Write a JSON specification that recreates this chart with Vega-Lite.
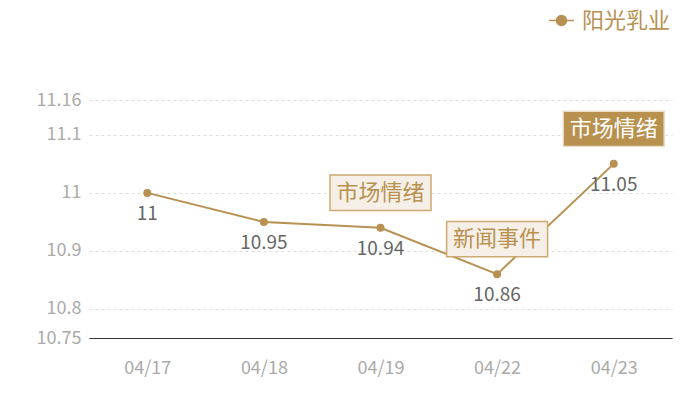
{
  "$schema": "https://vega.github.io/schema/vega-lite/v6.json",
  "description": "阳光乳业 daily price line with event annotations.",
  "width": 583,
  "height": 238,
  "autosize": "none",
  "padding": {"left": 89, "top": 100, "right": 28, "bottom": 62},
  "background": "#ffffff",
  "config": {
    "font": "Noto Sans CJK SC",
    "view": {"stroke": null}
  },
  "data": {
    "values": [
      {"date": "04/17", "value": 11, "series": "阳光乳业", "note": null},
      {"date": "04/18", "value": 10.95, "series": "阳光乳业", "note": null},
      {"date": "04/19", "value": 10.94, "series": "阳光乳业", "note": "市场情绪"},
      {"date": "04/22", "value": 10.86, "series": "阳光乳业", "note": "新闻事件"},
      {"date": "04/23", "value": 11.05, "series": "阳光乳业", "note": "市场情绪"}
    ]
  },
  "encoding": {
    "x": {
      "field": "date",
      "type": "ordinal",
      "sort": null,
      "scale": {"type": "point", "padding": 0.5},
      "axis": {
        "title": null,
        "labelAngle": 0,
        "labelColor": "#aaaaaa",
        "labelFontSize": 18,
        "labelPadding": 21,
        "ticks": false,
        "domainColor": "#333333",
        "domainWidth": 1.2,
        "grid": false
      }
    },
    "y": {
      "field": "value",
      "type": "quantitative",
      "scale": {"domain": [10.75, 11.16], "nice": false, "zero": false},
      "axis": {
        "title": null,
        "values": [10.75, 10.8, 10.9, 11, 11.1, 11.16],
        "format": "~g",
        "labelColor": "#aaaaaa",
        "labelFontSize": 18,
        "labelPadding": 8,
        "ticks": false,
        "domain": false,
        "gridColor": "#dddddd",
        "gridDash": [3, 3]
      }
    }
  },
  "layer": [
    {
      "mark": {"type": "line", "color": "#b89152", "strokeWidth": 2},
      "encoding": {
        "color": {
          "field": "series",
          "type": "nominal",
          "scale": {"range": ["#b89152"]},
          "legend": {
            "title": null,
            "orient": "none",
            "legendX": 459,
            "legendY": -93,
            "symbolType": "M-1,0H-0.4M0.4,0H1M-0.4,0A0.4,0.4,0,1,1,0.4,0A0.4,0.4,0,1,1,-0.4,0Z",
            "symbolSize": 625,
            "symbolFillColor": "#b89152",
            "symbolStrokeColor": "#b89152",
            "symbolStrokeWidth": 1.5,
            "labelColor": "#b89152",
            "labelFontSize": 22,
            "labelOffset": 7
          }
        }
      }
    },
    {
      "mark": {"type": "point", "filled": true, "color": "#b89152", "size": 64, "opacity": 1}
    },
    {
      "mark": {"type": "text", "dy": 21, "fontSize": 19, "color": "#666666"},
      "encoding": {"text": {"field": "value", "type": "quantitative"}}
    },
    {
      "transform": [{"filter": "datum.note != null"}],
      "mark": {
        "type": "point",
        "shape": "M-1,-0.35H1V0.35H-1Z",
        "size": 10200,
        "yOffset": -35,
        "filled": true,
        "opacity": 1,
        "strokeWidth": 1.5
      },
      "encoding": {
        "fill": {
          "condition": {"test": "datum.date === '04/23'", "value": "#b8914f"},
          "value": "#f5efe7"
        },
        "stroke": {
          "condition": {"test": "datum.date === '04/23'", "value": "#eadfca"},
          "value": "#cba970"
        }
      }
    },
    {
      "transform": [{"filter": "datum.note != null"}],
      "mark": {"type": "text", "dy": -35, "fontSize": 22},
      "encoding": {
        "text": {"field": "note"},
        "color": {
          "condition": {"test": "datum.date === '04/23'", "value": "#ffffff"},
          "value": "#b8914f"
        }
      }
    }
  ]
}
